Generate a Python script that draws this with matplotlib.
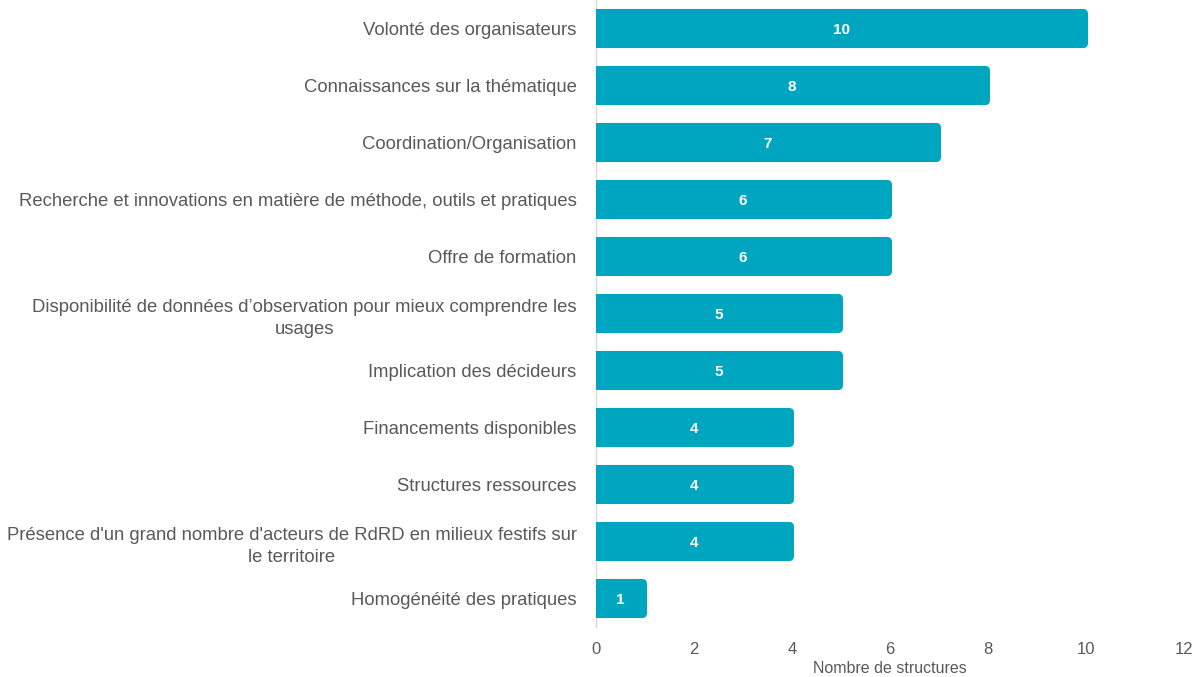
import matplotlib
matplotlib.use("Agg")
import matplotlib.pyplot as plt
from matplotlib.patches import FancyBboxPatch, Rectangle

categories = [
    "Volonté des organisateurs",
    "Connaissances sur la thématique",
    "Coordination/Organisation",
    "Recherche et innovations en matière de méthode, outils et pratiques",
    "Offre de formation",
    "Disponibilité de données d’observation pour mieux comprendre les\nusages",
    "Implication des décideurs",
    "Financements disponibles",
    "Structures ressources",
    "Présence d'un grand nombre d'acteurs de RdRD en milieux festifs sur\nle territoire",
    "Homogénéité des pratiques",
]
values = [10, 8, 7, 6, 6, 5, 5, 4, 4, 4, 1]
x_ticks = [0, 2, 4, 6, 8, 10, 12]

plt.rcParams['font.family'] = ['Liberation Sans', 'DejaVu Sans']
color = "#00A6C0"
text_gray = "#595959"

fig = plt.figure(figsize=(11.99, 6.77), dpi=100)
ax = fig.add_axes([596/1199, 50/677, (1184-596)/1199, 627/677])

ypos = list(range(len(categories)))
bh = 0.686
bars = ax.barh(ypos, values, height=bh, color=color, edgecolor="none")

ax.set_xlim(0, 12)
ax.set_ylim(len(categories) - 0.5, -0.5)

# rounded right corners
px_x = 12 / (1184 - 596)
px_y = 11 / 627
r = 5 * px_x
aspect = px_y / px_x
ext = 2 * px_x
for b in bars:
    b.set_visible(False)
    x0, y0, w, h = b.get_x(), b.get_y(), b.get_width(), b.get_height()
    fb = FancyBboxPatch((x0, y0), w + ext, h,
                        boxstyle=f"round,pad=0,rounding_size={r}",
                        mutation_aspect=aspect, facecolor=color, edgecolor="none",
                        zorder=2)
    ax.add_patch(fb)
    ax.add_patch(Rectangle((x0, y0), w / 2, h, facecolor=color, edgecolor="none",
                           zorder=2))
    ax.text(x0 + w / 2, y0 + h / 2, f"{w:g}", ha="center", va="center_baseline",
            color="white", fontsize=11, fontweight="bold", zorder=3)

ax.set_yticks(ypos)
ax.set_yticklabels(categories, fontsize=13.3, color=text_gray,
                   multialignment="center", linespacing=1.4)
ax.tick_params(axis="y", length=0, pad=14)
ax.set_xticks(x_ticks)
ax.set_xticklabels([str(t) for t in x_ticks], fontsize=12, color=text_gray)
ax.tick_params(axis="x", length=0, pad=11)
ax.set_xlabel("Nombre de structures", fontsize=11.5, color=text_gray, labelpad=3)

for s in ["top", "right", "bottom"]:
    ax.spines[s].set_visible(False)
ax.spines["left"].set_color("#D9D9D9")
ax.spines["left"].set_linewidth(1)
ax.spines["left"].set_zorder(0)

fig.savefig("out.png", dpi=100)
